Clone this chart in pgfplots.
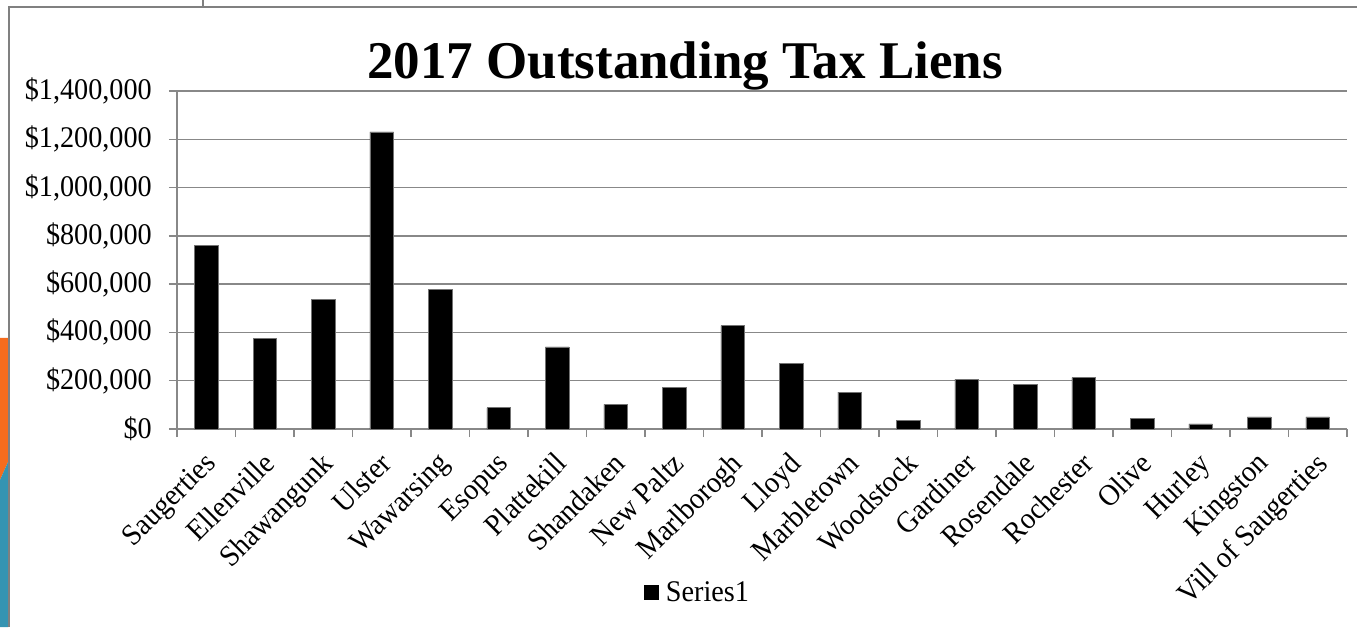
\documentclass[border=0pt]{standalone}
\usepackage{fontspec}
\setmainfont{Liberation Serif}
\newfontfamily\labelfont[FakeStretch=0.94]{Liberation Serif}
\usepackage{pgfplots}
\pgfplotsset{compat=1.18}

\definecolor{slideorange}{RGB}{246,108,29}
\definecolor{slideblue}{RGB}{53,148,178}
\definecolor{framegray}{RGB}{128,128,128}
\definecolor{gridgray}{RGB}{136,136,136}

\begin{document}
\begin{tikzpicture}[x=1pt,y=1pt]
\useasboundingbox (0,0) rectangle (1357,627);
\fill[white] (0,0) rectangle (1357,627);
% slide decoration on the left
\fill[slideorange] (0,289) -- (8,289) -- (8,165) -- (0,147) -- cycle;
\fill[slideblue] (0,147) -- (8,165) -- (8,0) -- (0,0) -- cycle;
\draw[framegray, line width=2pt] (9,0) -- (9,620) -- (1360,620);
\draw[framegray, line width=1.5pt] (203,620) -- (203,630);

\begin{axis}[
    at={(177pt,198pt)}, anchor=south west,
    scale only axis,
    width=1170pt, height=338pt,
    xmin=-0.5, xmax=19.5,
    ymin=0, ymax=1400000,
    axis lines*=left,
    axis line style={gridgray, line width=1.3pt},
    ymajorgrids=true,
    grid style={gridgray, line width=1.3pt},
    tick align=outside,
    tick style={gridgray, line width=1.3pt},
    major tick length=8pt,
    minor tick length=8pt,
    xtick={0,...,19},
    major x tick style={draw=none},
    minor xtick={-0.5,0.5,...,19.5},
    xticklabels={Saugerties,Ellenville,Shawangunk,Ulster,Wawarsing,Esopus,
      Plattekill,Shandaken,New Paltz,Marlborogh,Lloyd,Marbletown,Woodstock,
      Gardiner,Rosendale,Rochester,Olive,Hurley,Kingston,Vill of Saugerties},
    xticklabel style={rotate=45, anchor=north east, inner sep=0pt,
      font=\labelfont\fontsize{30}{33}\selectfont, yshift=-7pt, xshift=-12pt},
    ytick={0,200000,400000,600000,800000,1000000,1200000,1400000},
    yticklabels={\$0,{\$200,000},{\$400,000},{\$600,000},{\$800,000},
      {\$1,000,000},{\$1,200,000},{\$1,400,000}},
    scaled y ticks=false,
    yticklabel style={anchor=east, inner sep=0pt, xshift=-17pt,
      font=\labelfont\fontsize{30}{33}\selectfont},
    legend style={at={(0.445,-0.482)}, anchor=center, draw=none,
      font=\labelfont\fontsize{30}{33}\selectfont},
    legend image code/.code={\fill[black] (0pt,-7pt) rectangle (14pt,7pt);
      \path (19pt,0pt);},
  ]
  \addplot[ybar, bar width=23.5pt, fill=black, draw=black!55, line width=0.6pt]
    coordinates {
      (0,759000) (1,376000) (2,537000) (3,1231000) (4,579000)
      (5,88000) (6,340000) (7,102000) (8,173000) (9,428000)
      (10,271000) (11,153000) (12,37000) (13,206000) (14,184000)
      (15,213000) (16,44000) (17,21000) (18,50000) (19,50000)
    };
  \addlegendentry{Series1}
\end{axis}

\node[anchor=base, font=\fontsize{53}{60}\selectfont\bfseries, inner sep=0pt]
  at (685,548) {2017 Outstanding Tax Liens};
\end{tikzpicture}
\end{document}
